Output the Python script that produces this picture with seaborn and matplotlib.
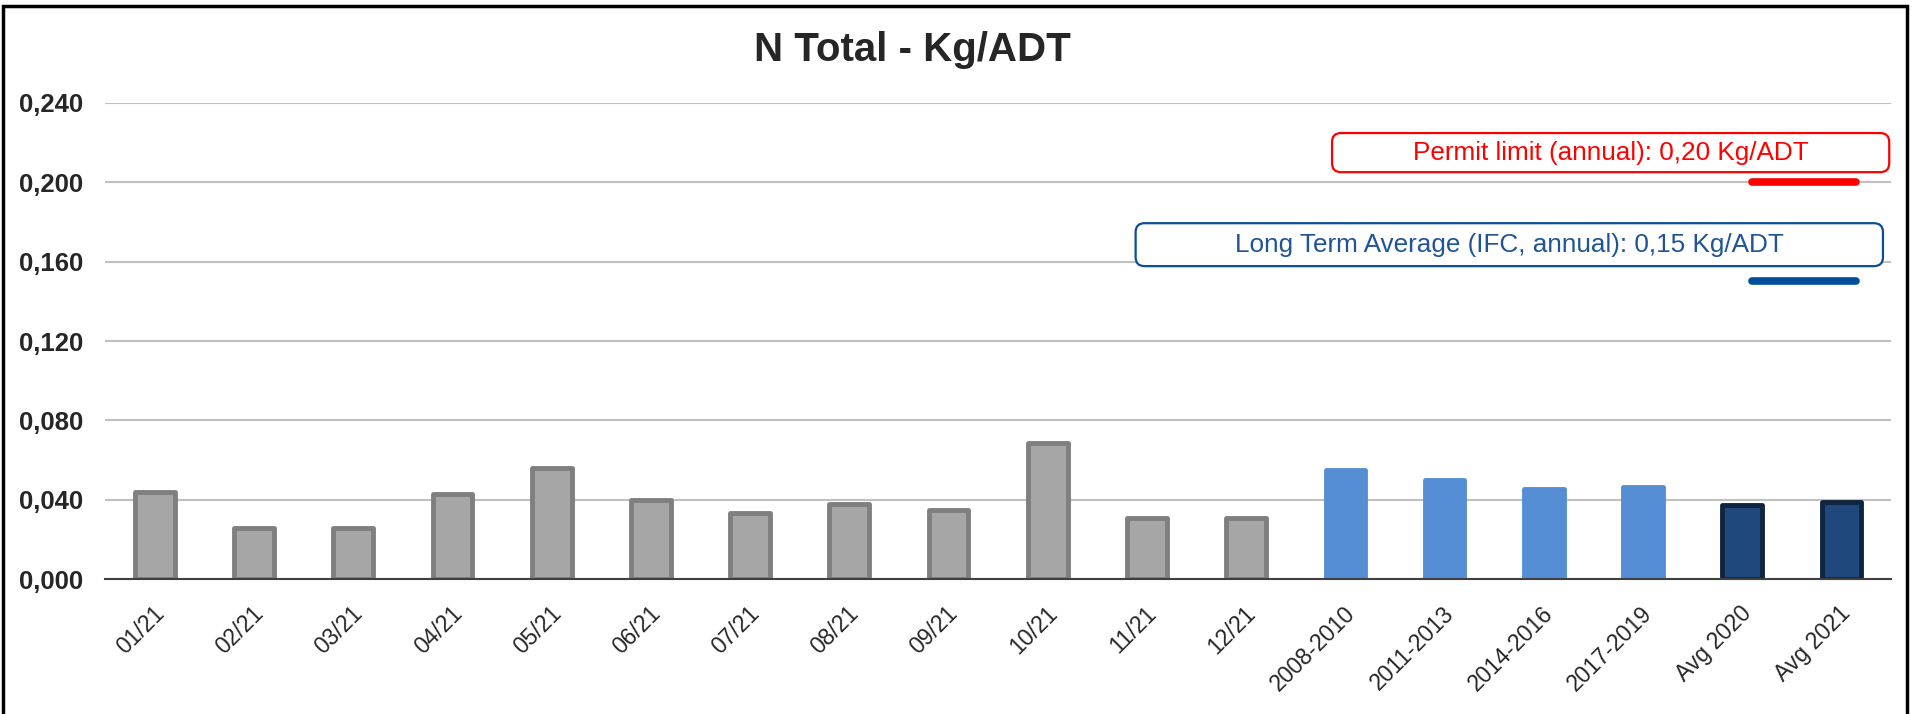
import numpy as np
import pandas as pd
import matplotlib
matplotlib.use("Agg")
import matplotlib.pyplot as plt
import matplotlib.transforms as mtransforms
import seaborn as sns
from matplotlib.patches import FancyBboxPatch, Rectangle

# Data
categories = ["01/21", "02/21", "03/21", "04/21", "05/21", "06/21",
              "07/21", "08/21", "09/21", "10/21", "11/21", "12/21",
              "2008-2010", "2011-2013", "2014-2016", "2017-2019",
              "Avg 2020", "Avg 2021"]
values = [0.044, 0.026, 0.026, 0.043, 0.056, 0.040,
          0.0335, 0.038, 0.035, 0.0685, 0.031, 0.031,
          0.055, 0.050, 0.0455, 0.0467,
          0.0375, 0.039]
groups = ["month"] * 12 + ["period"] * 4 + ["year"] * 2
permit_limit = 0.20
long_term_avg = 0.15
yticks = [0.0, 0.04, 0.08, 0.12, 0.16, 0.20, 0.24]

face = {"month": "#A6A6A6", "period": "#558ED5", "year": "#1F497D"}
edge = {"month": "#7F7F7F", "period": "#558ED5", "year": "#0F243E"}

df = pd.DataFrame({"cat": categories, "val": values, "grp": groups})

sns.set_style("white")
plt.rcParams["font.family"] = ["Liberation Sans", "DejaVu Sans"]

fig = plt.figure(figsize=(19.13, 7.14), dpi=100)
ax = fig.add_axes([0.055, 0.1884, 0.9335, 0.668])

sns.barplot(data=df, x="cat", y="val", hue="cat",
            palette=[face[g] for g in groups], legend=False,
            width=0.40, ax=ax, saturation=1)

for patch, g in zip(ax.patches, groups):
    patch.set_edgecolor(edge[g])
    patch.set_linewidth(3.5)
    patch.set_joinstyle("round")

# reference lines
ax.plot([16.1, 17.15], [permit_limit, permit_limit], color="#FF0000",
        lw=5.5, solid_capstyle="round", zorder=5)
ax.plot([16.1, 17.15], [long_term_avg, long_term_avg], color="#004F9A",
        lw=5.5, solid_capstyle="round", zorder=5)

ax.set_xlim(-0.5, len(categories) - 0.5)
ax.set_ylim(0, 0.24)
ax.set_yticks(yticks)
ax.set_yticklabels([f"{t:.3f}".replace(".", ",") for t in yticks],
                   fontsize=18.5, fontweight="bold")
ax.yaxis.grid(True, color="#C0C0BC", lw=1.5)
ax.set_axisbelow(True)
ax.tick_params(axis="y", length=0, pad=16)

ax.set_xticks(range(len(categories)))
ax.set_xticklabels(categories, rotation=45, ha="right", va="center",
                   rotation_mode="anchor", fontsize=16.5)
ax.tick_params(axis="x", which="major", length=0, pad=22)
shift = mtransforms.ScaledTranslation(0.06, 0, fig.dpi_scale_trans)
for lab in ax.get_xticklabels():
    lab.set_transform(lab.get_transform() + shift)
ax.set_xticks(np.arange(-0.5, len(categories), 1), minor=True)
ax.tick_params(axis="x", which="minor", length=8, width=1.2,
               color="#404040", direction="out")

for s in ["top", "right", "left"]:
    ax.spines[s].set_visible(False)
ax.spines["bottom"].set_color("#404040")
ax.spines["bottom"].set_linewidth(1.5)
ax.set_xlabel("")
ax.set_ylabel("")

fig.text(0.477, 0.915, "N Total - Kg/ADT", fontsize=29, fontweight="bold",
         ha="center", va="baseline")

# label boxes (axes coordinates)
bb = ax.get_window_extent()
asp = bb.width / bb.height
boxes = [
    (0.687, 0.854, 0.312, 0.082, "#FF0000", "#FF0000",
     "Permit limit (annual): 0,20 Kg/ADT"),
    (0.577, 0.657, 0.4185, 0.090, "#0B4E96", "#1F5497",
     "Long Term Average (IFC, annual): 0,15 Kg/ADT"),
]
for x0, y0, w, h, ec, tc, label in boxes:
    box = FancyBboxPatch((x0, y0), w, h, transform=ax.transAxes,
                         boxstyle="round,pad=0,rounding_size=0.005",
                         mutation_aspect=asp, facecolor="white",
                         edgecolor=ec, lw=1.6, zorder=6, clip_on=False)
    ax.add_patch(box)
    ax.text(x0 + w / 2, y0 + h / 2, label, transform=ax.transAxes,
            ha="center", va="center", color=tc, fontsize=18.8, zorder=7)

# figure frame
fig.patches.append(Rectangle((0.0015, -0.05), 0.9955, 1.042,
                             transform=fig.transFigure, fill=False,
                             edgecolor="black", lw=2.5))

fig.savefig("out.png", dpi=100)
